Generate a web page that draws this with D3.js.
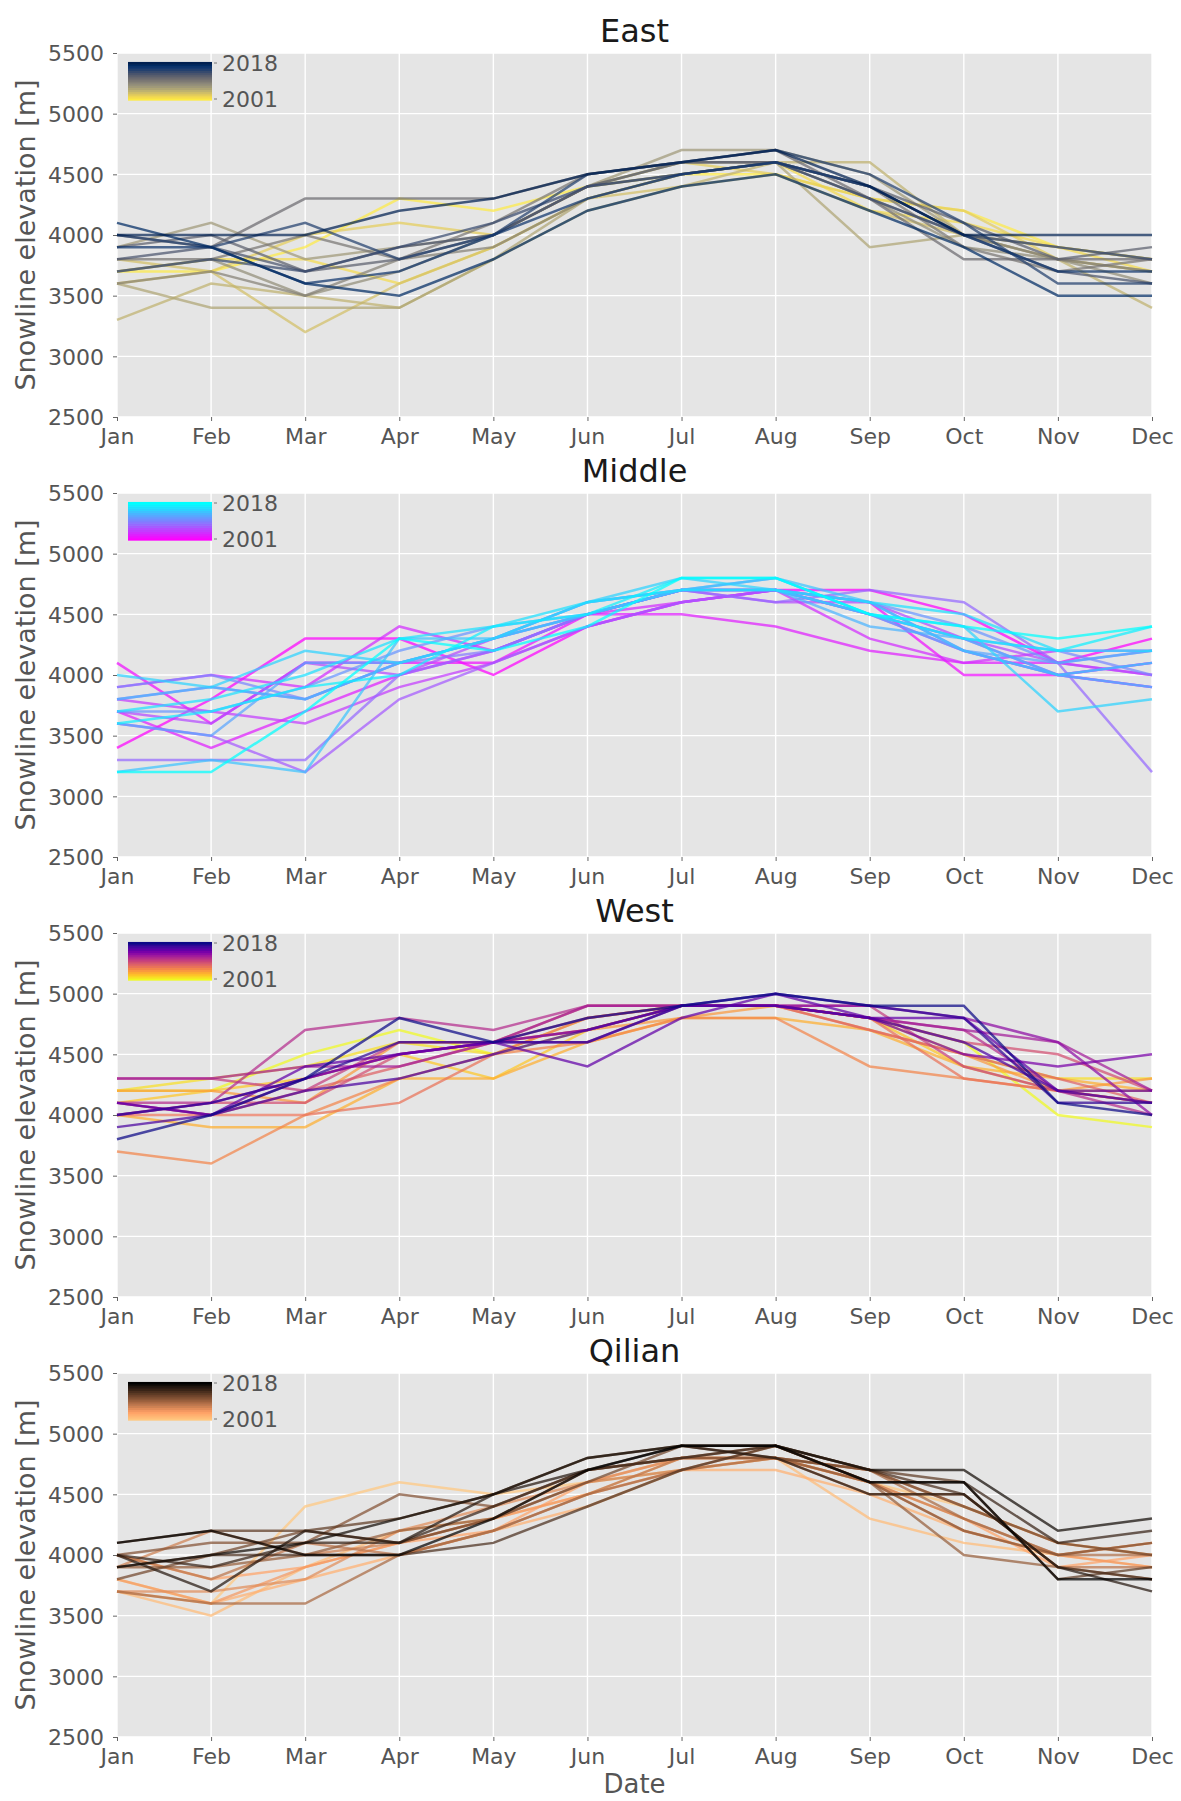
<!DOCTYPE html>
<html>
<head>
<meta charset="utf-8">
<script src="https://d3js.org/d3.v7.min.js"></script>
<style>
  body { margin: 0; background: #fff; }
  svg text { font-family: "DejaVu Sans", sans-serif; }
</style>
</head>
<body>
<div id="chart"></div>
<script>
const months = ["Jan","Feb","Mar","Apr","May","Jun","Jul","Aug","Sep","Oct","Nov","Dec"];
const years = d3.range(2001, 2019);
const yTicks = [2500, 3000, 3500, 4000, 4500, 5000, 5500];
const regionNames = ["East", "Middle", "West", "Qilian"];

// rows = years 2001..2018, columns = Jan..Dec
const eastValues = [
  [3700,3700,3900,4300,4200,4400,4500,4500,4300,4200,3900,3800],
  [3700,3800,3800,3600,3900,4300,4500,4600,4200,4100,3900,3700],
  [3600,3700,4000,4100,4000,4400,4600,4500,4300,4200,3800,3700],
  [3800,3700,3200,3600,3900,4300,4400,4500,4200,4000,3900,3800],
  [3300,3600,3500,3400,3800,4200,4400,4600,4600,4000,3800,3400],
  [3600,3400,3400,3400,3800,4300,4500,4600,3900,4000,3800,3700],
  [3900,4100,3800,3900,4000,4400,4700,4700,4500,4000,3900,3800],
  [3700,3800,3500,3700,4000,4400,4600,4600,4300,3900,3800,3600],
  [3600,3700,3500,3800,3900,4300,4500,4600,4300,4000,3800,3700],
  [3800,3800,4000,3800,4100,4500,4600,4600,4400,3900,3700,3800],
  [4000,3900,4300,4300,4300,4500,4600,4700,4300,3800,3800,3800],
  [3900,4000,3700,3800,4000,4400,4600,4600,4400,4100,3800,3900],
  [3800,3900,3700,3900,4000,4400,4500,4600,4400,4000,3700,3600],
  [3700,3800,3700,3900,4100,4400,4500,4600,4300,4000,3900,3800],
  [4000,3900,4100,3800,4000,4500,4600,4700,4500,4100,3600,3600],
  [3900,3900,3600,3700,4000,4300,4500,4600,4400,4000,3700,3700],
  [4100,3900,3600,3500,3800,4200,4400,4500,4200,3900,3500,3500],
  [4000,4000,4000,4200,4300,4500,4600,4700,4400,4000,4000,4000]
];
const middleValues = [
  [3400,3800,4300,4300,4000,4400,4600,4700,4700,4500,4100,4300],
  [4100,3600,4100,4100,4100,4500,4700,4700,4600,4000,4000,4100],
  [3700,3400,3700,4000,4200,4500,4500,4400,4200,4100,4100,4000],
  [3900,4000,3900,4400,4200,4500,4600,4700,4300,4100,4200,4200],
  [3800,3700,3600,3900,4100,4400,4600,4700,4500,4200,4000,3900],
  [3700,3600,4100,4000,4300,4500,4700,4600,4600,4300,4100,4000],
  [3600,3500,3200,3800,4100,4400,4600,4700,4500,4300,4000,3900],
  [3300,3300,3300,4000,4200,4500,4700,4600,4700,4600,4100,3200],
  [3800,3900,3800,4100,4200,4500,4700,4700,4600,4200,4000,4100],
  [3900,4000,3800,4100,4300,4600,4700,4700,4500,4300,4200,4000],
  [3700,3700,3900,4200,4400,4500,4700,4700,4600,4400,4100,4200],
  [3600,3500,4100,4100,4300,4500,4700,4800,4500,4200,4100,4200],
  [3800,3900,3800,4100,4300,4600,4700,4700,4400,4300,4000,3900],
  [3200,3300,3200,4300,4300,4500,4700,4800,4600,4200,4000,4100],
  [4000,3900,4200,4100,4300,4600,4800,4700,4500,4400,3700,3800],
  [3700,3800,4000,4300,4400,4600,4700,4700,4600,4500,4200,4200],
  [3600,3700,3900,4000,4400,4500,4800,4800,4500,4300,4200,4400],
  [3200,3200,3700,4300,4200,4400,4800,4800,4500,4400,4300,4400]
];
const westValues = [
  [4200,4200,4500,4700,4500,4700,4900,4900,4800,4600,4000,3900],
  [4200,4300,4400,4600,4500,4800,4900,4900,4800,4500,4300,4300],
  [4100,4200,4300,4500,4300,4700,4900,4900,4800,4400,4200,4200],
  [4000,3900,3900,4300,4300,4600,4800,4800,4700,4400,4300,4200],
  [4200,4200,4100,4600,4600,4700,4800,4900,4700,4500,4200,4300],
  [3700,3600,4000,4300,4500,4600,4800,4800,4400,4300,4200,4100],
  [4000,4000,4000,4100,4500,4800,4900,4900,4800,4300,4200,4100],
  [4100,4000,4200,4400,4600,4900,4900,4900,4700,4500,4300,4100],
  [4000,4100,4100,4500,4600,4700,4900,4900,4800,4600,4500,4200],
  [4300,4300,4200,4600,4600,4800,4900,4900,4900,4400,4200,4100],
  [4100,4100,4700,4800,4700,4900,4900,4900,4800,4700,4200,4000],
  [4300,4300,4400,4400,4600,4900,4900,4900,4800,4700,4600,4200],
  [4100,4000,4300,4500,4600,4600,4900,4900,4900,4800,4600,4000],
  [4000,4100,4300,4500,4600,4700,4900,4900,4800,4500,4400,4500],
  [4100,4000,4400,4500,4600,4400,4800,5000,4800,4800,4200,4200],
  [3900,4000,4200,4300,4500,4700,4900,4900,4800,4600,4200,4100],
  [4000,4100,4300,4600,4600,4600,4900,5000,4900,4800,4100,4100],
  [3800,4000,4300,4800,4600,4800,4900,5000,4900,4900,4100,4000]
];
const qilianValues = [
  [3800,3600,4400,4600,4500,4600,4700,4800,4600,4400,4100,4000],
  [3700,3500,3900,4200,4300,4500,4800,4800,4300,4100,4000,3900],
  [3700,3600,3800,4000,4200,4400,4700,4700,4500,4200,4000,4100],
  [4000,3800,3900,4100,4200,4600,4800,4800,4600,4300,3900,4000],
  [3800,3600,3900,4100,4300,4500,4700,4800,4600,4200,4000,3900],
  [3700,3700,3800,4200,4400,4600,4800,4800,4700,4400,4100,4000],
  [3900,4200,4000,4100,4300,4600,4700,4900,4600,4300,4000,4100],
  [4000,3800,4100,4000,4200,4500,4800,4800,4500,4500,3900,3900],
  [3700,3600,3600,4000,4200,4500,4700,4800,4700,4300,4000,4000],
  [3900,3900,4000,4200,4300,4700,4800,4900,4600,4000,3900,3800],
  [4000,4100,4100,4500,4400,4700,4800,4800,4600,4200,4000,4100],
  [3800,4000,4200,4100,4300,4600,4900,4800,4700,4400,4100,4000],
  [4100,4200,4200,4300,4500,4800,4900,4900,4700,4600,3800,3900],
  [3900,4000,4000,4000,4100,4400,4700,4900,4700,4500,3900,3800],
  [4000,3900,4100,4100,4400,4700,4800,4900,4600,4600,4100,4200],
  [4000,3700,4200,4100,4500,4700,4900,4800,4500,4500,3900,3700],
  [3900,4000,4100,4300,4500,4800,4900,4900,4700,4700,4200,4300],
  [4100,4200,4000,4000,4300,4700,4900,4900,4600,4600,3800,3800]
];

// matplotlib colormaps (reversed so 2018 = start of map)
function mplCool(t) { return d3.rgb(255 * t, 255 * (1 - t), 255).formatHex(); }
function mplCopper(t) { return d3.rgb(255 * Math.min(1, 1.25 * t), 255 * 0.7812 * t, 255 * 0.4975 * t).formatHex(); }
const cmaps = [d3.interpolateCividis, mplCool, d3.interpolatePlasma, mplCopper];
const regionValues = [eastValues, middleValues, westValues, qilianValues];

const W = 1181, H = 1801;
const left = 117, right = 1152, plotH = 364, firstTop = 53, step = 440;
const svg = d3.select("#chart").append("svg").attr("width", W).attr("height", H)
  .style("background", "#fff");

const x = d3.scalePoint().domain(months).range([left, right]);
const yearT = d3.scaleLinear().domain([2001, 2018]).range([1, 0]);

regionNames.forEach((name, ri) => {
  const top = firstTop + ri * step;
  const bottom = top + plotH;
  const y = d3.scaleLinear().domain([2500, 5500]).range([bottom, top]);
  const cmap = cmaps[ri];
  const g = svg.append("g");

  g.append("rect").attr("x", left).attr("y", top).attr("width", right - left).attr("height", plotH)
    .attr("fill", "#e5e5e5");

  // grid
  g.selectAll(".gy").data(yTicks).join("line")
    .attr("x1", left).attr("x2", right).attr("y1", d => y(d)).attr("y2", d => y(d))
    .attr("stroke", "#fff").attr("stroke-width", 1.4);
  g.selectAll(".gx").data(months).join("line")
    .attr("x1", d => x(d)).attr("x2", d => x(d)).attr("y1", top).attr("y2", bottom)
    .attr("stroke", "#fff").attr("stroke-width", 1.4);

  // axes
  const yAxis = d3.axisLeft(y).tickValues(yTicks).tickSize(4).tickPadding(9).tickFormat(d3.format("d"));
  const ya = g.append("g").attr("transform", `translate(${left},0)`).call(yAxis);
  const xAxis = d3.axisBottom(x).tickSize(4).tickPadding(7);
  const xa = g.append("g").attr("transform", `translate(0,${bottom})`).call(xAxis);
  [ya, xa].forEach(a => {
    a.select(".domain").remove();
    a.selectAll(".tick line").attr("stroke", "#666").attr("stroke-width", 1);
    a.selectAll(".tick text").attr("fill", "#555").style("font-size", "22px")
      .style("font-family", "'DejaVu Sans', sans-serif");
  });
  ya.selectAll(".tick text").attr("dy", "0.36em");

  // lines
  const line = d3.line().x((d, i) => x(months[i])).y(d => y(d));
  g.append("g").selectAll("path").data(regionValues[ri]).join("path")
    .attr("d", line)
    .attr("fill", "none")
    .attr("stroke", (d, i) => cmap(yearT(years[i])))
    .attr("stroke-width", 2.5)
    .attr("stroke-opacity", 0.72)
    .attr("stroke-linejoin", "miter");

  // title
  g.append("text").attr("x", (left + right) / 2).attr("y", top - 11)
    .attr("text-anchor", "middle").attr("fill", "#1a1a1a").style("font-size", "32px").text(name);

  // y label
  g.append("text").attr("transform", `translate(35,${(top + bottom) / 2}) rotate(-90)`)
    .attr("text-anchor", "middle").attr("fill", "#555").style("font-size", "27px")
    .text("Snowline elevation [m]");

  // legend (gradient of year colors)
  const lx = 128, lw = 84, ly0 = top + 10, lh = 36;
  const ly = d3.scaleLinear().domain([2018, 2001]).range([ly0, ly0 + lh]);
  const band = lh / (years.length - 1);
  g.append("g").selectAll("rect").data(years).join("rect")
    .attr("x", lx).attr("width", lw)
    .attr("y", d => ly(d) - band / 2).attr("height", band + 0.6)
    .attr("fill", d => cmap(yearT(d)));
  [2018, 2001].forEach(yr => {
    g.append("line").attr("x1", lx + lw + 2).attr("x2", lx + lw + 5)
      .attr("y1", ly(yr)).attr("y2", ly(yr)).attr("stroke", "#777").attr("stroke-width", 1);
    g.append("text").attr("x", lx + lw + 10).attr("y", ly(yr)).attr("dy", "0.36em")
      .attr("fill", "#555").style("font-size", "22px").text(yr);
  });
});

svg.append("text").attr("x", (left + right) / 2).attr("y", 1793)
  .attr("text-anchor", "middle").attr("fill", "#555").style("font-size", "26px").text("Date");
</script>
</body>
</html>
